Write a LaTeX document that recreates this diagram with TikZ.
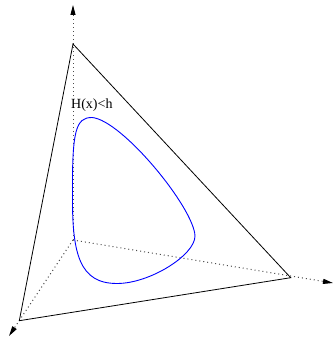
\documentclass[tikz,border=0pt]{standalone}
\usepackage{fontspec}
\setmainfont{Liberation Serif}
\usetikzlibrary{arrows.meta}
\begin{document}
\begin{tikzpicture}[x=1pt,y=-1pt,
  axis/.style={draw=black!70,dash pattern=on 1pt off 3pt,line width=1pt,-{Triangle[length=10pt,width=5pt,black]}},
  edge/.style={draw=black,line width=0.8pt,line join=miter},
  level/.style={draw=blue,line width=0.9pt}]
\useasboundingbox (0,0) rectangle (333,337);
\coordinate (O) at (73,240);
\coordinate (A) at (73,44);
\coordinate (B) at (19.3,320.7);
\coordinate (C) at (290.7,277.7);
\coordinate (Az) at (73,5);
\coordinate (Bx) at (9,336);
\coordinate (Cy) at (333,283);
\draw[axis] (O) -- (Az);
\draw[axis] (O) -- (Bx);
\draw[axis] (O) -- (Cy);
\draw[edge] (A) -- (B) -- (C) -- cycle;
\coordinate (T) at (92,117.5);
\coordinate (R) at (195,236);
\coordinate (Bt) at (117,283.5);
\coordinate (L) at (72.5,195);
\draw[level] (T) .. controls (122,120) and (194,208) .. (R)
  .. controls (195,255) and (150,283.5) .. (Bt)
  .. controls (80,283.5) and (72,255) .. (L)
  .. controls (72,130) and (76,117.5) .. (T) -- cycle;
\node[anchor=base west,inner sep=0,font=\fontsize{14}{16}\selectfont] (lbl) at (71,108.3) {H(x)<h};
\end{tikzpicture}
\end{document}
